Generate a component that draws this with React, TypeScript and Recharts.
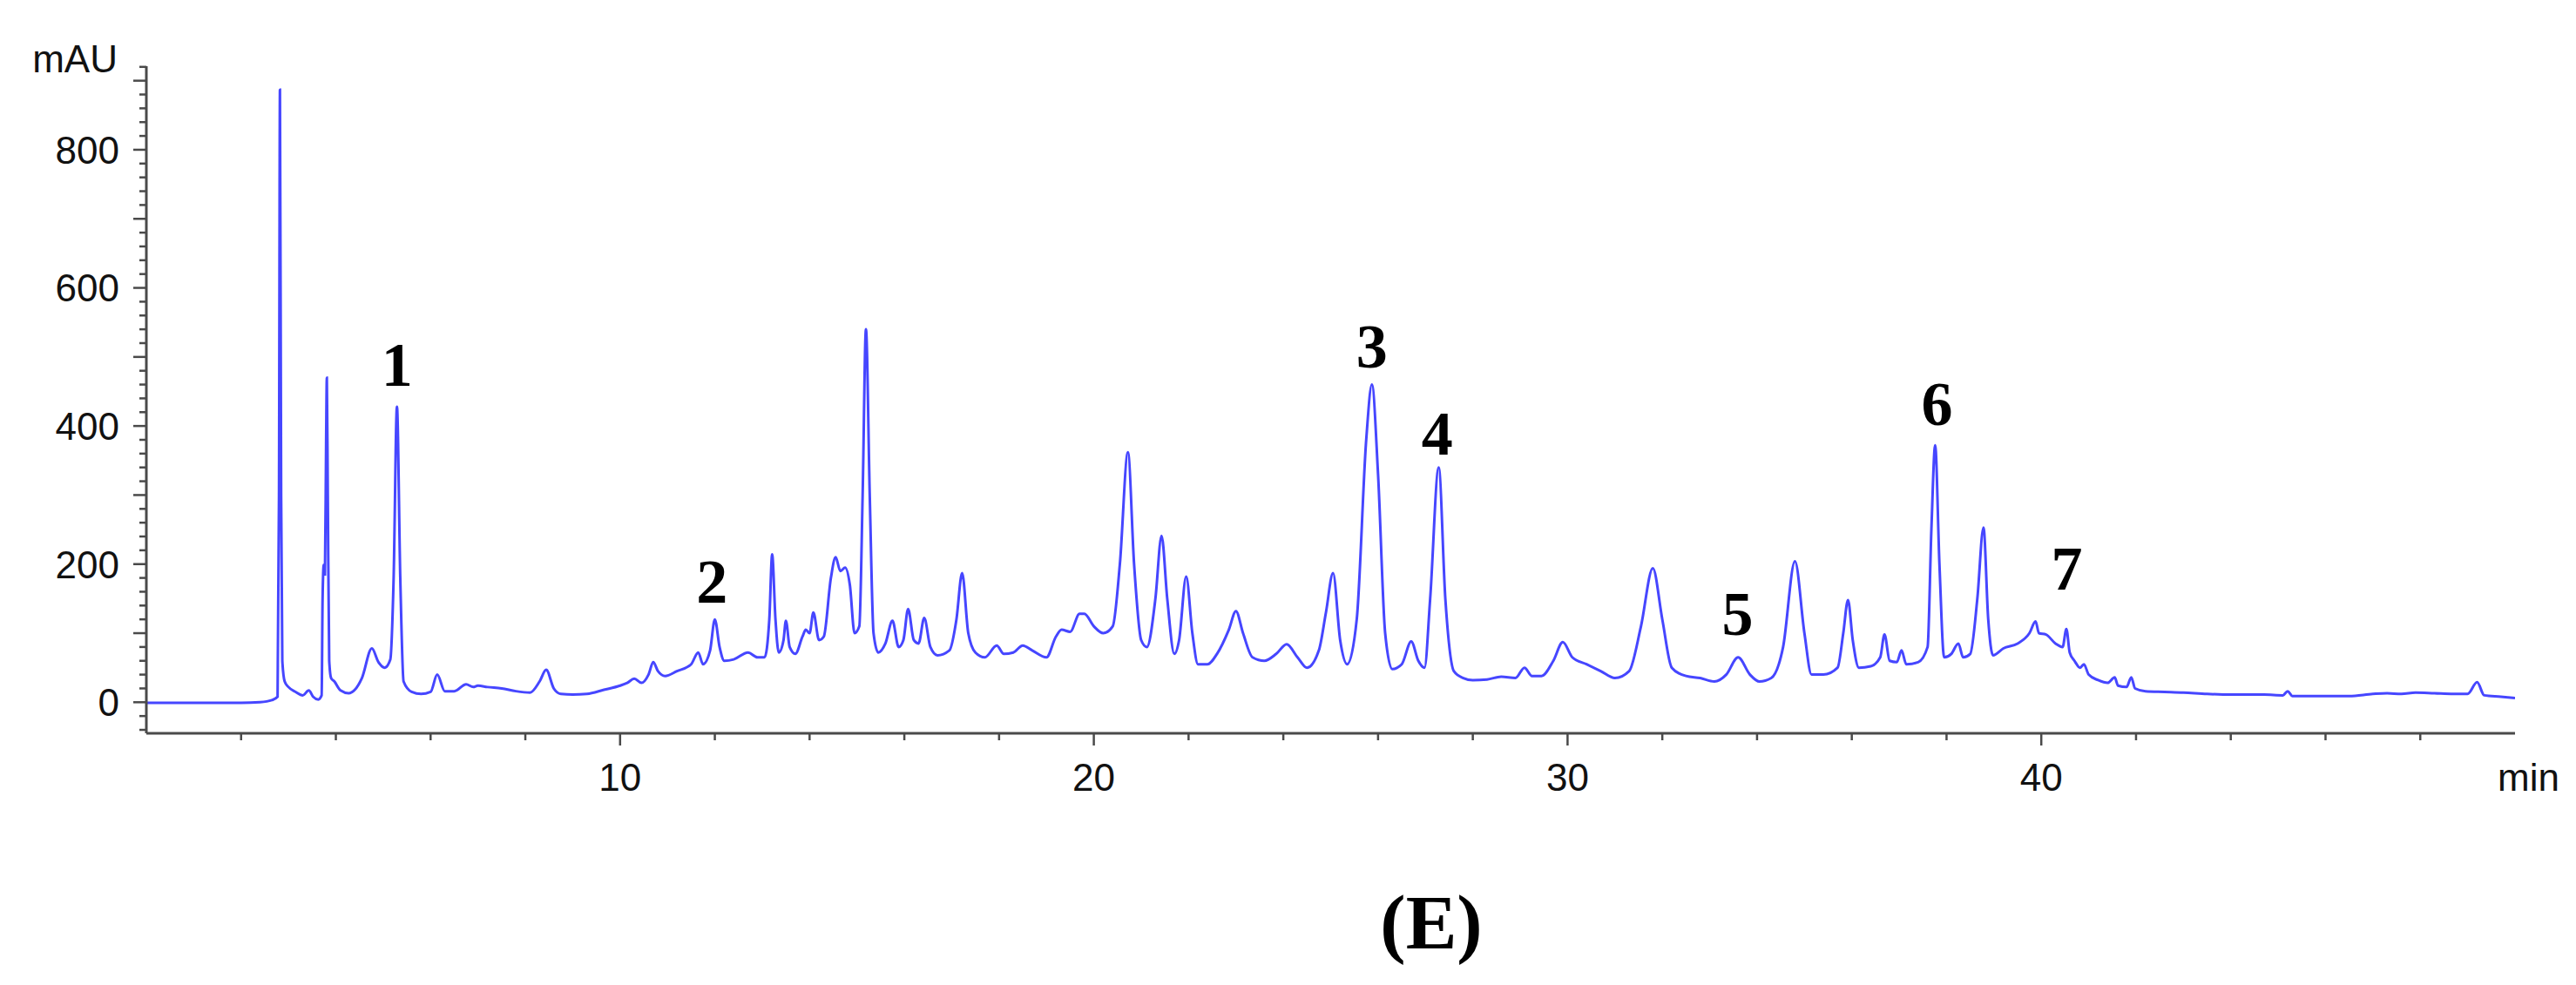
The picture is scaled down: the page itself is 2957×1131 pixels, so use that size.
import React from 'react';
import { LineChart, Line, XAxis, YAxis, ReferenceDot } from 'recharts';

// Chromatogram trace, [retention time (min), absorbance (mAU)]
const trace0to10: [number, number][] = [
  [0, -1], [0.5, -1], [1.0, -1], [1.5, -1], [2.0, -1], [2.4, 0], [2.65, 3], [2.77, 8],
  [2.8, 300], [2.82, 887], [2.845, 300], [2.87, 60], [2.92, 30], [3.0, 22], [3.15, 15],
  [3.3, 10], [3.43, 17], [3.52, 8], [3.63, 4], [3.7, 10], [3.72, 150], [3.745, 199],
  [3.77, 185], [3.795, 380], [3.81, 470], [3.83, 300], [3.86, 60], [3.9, 35], [3.97, 30],
  [4.1, 17], [4.27, 13], [4.4, 18], [4.55, 35], [4.76, 78], [4.9, 58], [5.03, 50],
  [5.15, 62], [5.22, 180], [5.29, 428], [5.36, 180], [5.43, 30], [5.6, 15], [5.8, 12],
  [6.0, 15], [6.14, 40], [6.3, 16], [6.5, 16], [6.75, 26], [6.9, 22], [7.0, 24], [7.2, 22],
  [7.5, 20], [7.8, 16], [8.1, 14], [8.3, 30], [8.44, 47], [8.6, 20], [8.75, 12], [9.0, 11],
  [9.3, 12], [9.66, 18], [10.0, 24],
];
const trace10to20: [number, number][] = [
  [10.15, 28], [10.3, 34], [10.45, 28], [10.6, 40], [10.7, 58], [10.8, 45], [10.95, 38],
  [11.2, 45], [11.5, 55], [11.65, 72], [11.75, 55], [11.9, 75], [12.0, 120], [12.1, 80],
  [12.2, 60], [12.4, 62], [12.7, 72], [12.9, 65], [13.05, 65], [13.15, 120], [13.21, 214],
  [13.28, 120], [13.35, 72], [13.45, 90], [13.5, 118], [13.58, 80], [13.7, 70], [13.85, 95],
  [13.92, 105], [14.0, 100], [14.08, 130], [14.2, 90], [14.3, 95], [14.45, 180], [14.55, 210],
  [14.65, 190], [14.75, 195], [14.85, 170], [14.95, 100], [15.05, 110], [15.12, 300],
  [15.19, 540], [15.27, 300], [15.35, 100], [15.45, 72], [15.6, 85], [15.75, 118], [15.88, 80],
  [15.98, 90], [16.08, 135], [16.2, 90], [16.3, 85], [16.42, 122], [16.55, 80], [16.7, 68],
  [16.95, 75], [17.1, 120], [17.22, 187], [17.35, 100], [17.5, 72], [17.7, 65], [17.95, 82],
  [18.1, 70], [18.3, 72], [18.5, 82], [18.7, 75], [19.0, 65], [19.2, 95], [19.32, 105],
  [19.5, 102], [19.7, 128], [19.8, 128], [20.0, 110],
];
const trace20to30: [number, number][] = [
  [20.2, 100], [20.4, 110], [20.55, 200], [20.72, 362], [20.85, 200], [21.0, 90], [21.12, 80],
  [21.3, 150], [21.43, 241], [21.55, 150], [21.7, 70], [21.8, 90], [21.95, 182], [22.08, 100],
  [22.2, 55], [22.4, 55], [22.6, 70], [22.85, 105], [23.0, 132], [23.15, 100], [23.35, 65],
  [23.6, 60], [23.85, 70], [24.07, 84], [24.3, 65], [24.5, 50], [24.75, 75], [24.9, 130],
  [25.05, 187], [25.2, 90], [25.35, 55], [25.55, 120], [25.75, 380], [25.87, 460], [26.0, 330],
  [26.15, 100], [26.3, 48], [26.5, 55], [26.7, 88], [26.85, 60], [26.98, 50], [27.1, 150],
  [27.28, 340], [27.42, 150], [27.6, 45], [27.8, 35], [28.0, 32], [28.3, 33], [28.6, 37],
  [28.9, 35], [29.09, 50], [29.25, 38], [29.45, 38], [29.7, 60], [29.9, 87], [30.1, 65],
];
const trace30to40: [number, number][] = [
  [30.4, 55], [30.7, 45], [31.0, 35], [31.3, 45], [31.55, 110], [31.8, 194], [32.0, 120],
  [32.2, 50], [32.5, 38], [32.8, 35], [33.1, 30], [33.35, 40], [33.6, 65], [33.85, 40],
  [34.05, 30], [34.3, 35], [34.55, 80], [34.8, 204], [35.0, 100], [35.15, 40], [35.4, 40],
  [35.7, 50], [35.82, 100], [35.92, 148], [36.02, 90], [36.15, 50], [36.4, 52], [36.6, 65],
  [36.69, 98], [36.8, 60], [36.95, 58], [37.05, 75], [37.15, 55], [37.4, 58], [37.6, 80],
  [37.68, 250], [37.76, 372], [37.85, 200], [37.95, 65], [38.1, 70], [38.25, 85], [38.35, 65],
  [38.5, 70], [38.65, 150], [38.78, 253], [38.88, 120], [38.98, 68], [39.2, 78], [39.5, 85],
  [39.75, 100], [39.88, 117], [39.95, 100], [40.1, 98],
];
const trace40to50: [number, number][] = [
  [40.3, 85], [40.45, 80], [40.53, 106], [40.6, 72], [40.7, 60], [40.82, 50], [40.9, 55],
  [41.0, 40], [41.2, 32], [41.4, 28], [41.55, 36], [41.62, 24], [41.8, 22], [41.9, 36],
  [41.98, 20], [42.2, 16], [42.6, 15], [43.0, 14], [43.5, 12], [44.0, 11], [44.7, 11],
  [45.1, 10], [45.2, 16], [45.3, 9], [45.8, 9], [46.5, 9], [47.0, 12], [47.3, 13], [47.6, 12],
  [47.9, 14], [48.3, 13], [48.7, 12], [49.0, 12], [49.2, 29], [49.35, 10], [49.7, 8], [50.0, 6],
];

// Axis ticks
const xTicks = [2, 4, 6, 8, 10, 12, 14, 16, 18, 20, 22, 24, 26, 28, 30, 32, 34, 36, 38, 40, 42, 44, 46, 48];
const xLabelTicks = [10, 20, 30, 40];
const yTicks = [-40, -20, 0, 20, 40, 60, 80, 100, 120, 140, 160, 180, 200, 220, 240, 260, 280, 300, 320, 340, 360, 380, 400, 420, 440, 460, 480, 500, 520, 540, 560, 580, 600, 620, 640, 660, 680, 700, 720, 740, 760, 780, 800, 820, 840, 860, 880, 900, 920];
const yLabelTicks = [0, 200, 400, 600, 800];

// Peak annotations: label, time, mAU (baseline of the label)
const peakLabels = ['1', '2', '3', '4', '5', '6', '7'];
const peakTimes = [5.29, 11.94, 25.87, 27.25, 33.59, 37.8, 40.54];
const peakLabelLevels = [458, 144, 485, 358, 98, 402, 163];

const data = [...trace0to10, ...trace10to20, ...trace20to30, ...trace30to40, ...trace40to50].map(
  ([t, v]) => ({ t, v })
);

const AXIS_COLOR = '#4a4a4a';
const SANS = '"Liberation Sans", Arial, sans-serif';
const SERIF = '"Liberation Serif", "Times New Roman", serif';

const YTick = (props: any) => {
  const { x, y, payload } = props;
  const v = payload.value;
  const major = v % 100 === 0;
  const len = major ? 15 : 8;
  return (
    <g>
      <line x1={x - len} x2={x} y1={y} y2={y} stroke={AXIS_COLOR} strokeWidth={2.5} />
      {yLabelTicks.includes(v) && (
        <text x={x - 31} y={y} dy="0.36em" textAnchor="end" fontFamily={SANS} fontSize={44} fill="#111">
          {v}
        </text>
      )}
    </g>
  );
};

const XTick = (props: any) => {
  const { x, y, payload } = props;
  const v = payload.value;
  const major = xLabelTicks.includes(v);
  const len = major ? 14 : 8;
  return (
    <g>
      <line x1={x} x2={x} y1={y} y2={y + len} stroke={AXIS_COLOR} strokeWidth={2.5} />
      {major && (
        <text x={x} y={y + 66} textAnchor="middle" fontFamily={SANS} fontSize={44} fill="#111">
          {v}
        </text>
      )}
    </g>
  );
};

export default function App() {
  return (
    <div style={{ position: 'relative', width: 2941, height: 1115 }}>
      <LineChart
        width={2941}
        height={1115}
        data={data}
        margin={{ top: 68, right: 62, left: 40, bottom: 181 }}
      >
        <XAxis
          type="number"
          dataKey="t"
          domain={[0, 50]}
          ticks={xTicks}
          interval={0}
          height={100}
          tickSize={0}
          tickMargin={0}
          tickLine={false}
          axisLine={{ stroke: AXIS_COLOR, strokeWidth: 3 }}
          tick={<XTick />}
          allowDataOverflow
        />
        <YAxis
          type="number"
          domain={[-45, 921]}
          ticks={yTicks}
          interval={0}
          width={120}
          tickSize={0}
          tickMargin={0}
          tickLine={false}
          axisLine={{ stroke: AXIS_COLOR, strokeWidth: 3 }}
          tick={<YTick />}
          allowDataOverflow
        />
        <Line
          type="monotone"
          dataKey="v"
          stroke="#4646ff"
          strokeWidth={3}
          dot={false}
          isAnimationActive={false}
        />
        {peakLabels.map((lab, i) => (
          <ReferenceDot
            key={lab}
            x={peakTimes[i]}
            y={peakLabelLevels[i]}
            r={0}
            isFront
            shape={(p: any) => (
              <text
                x={p.cx}
                y={p.cy}
                textAnchor="middle"
                fontFamily={SERIF}
                fontWeight="bold"
                fontSize={72}
                fill="#000"
              >
                {lab}
              </text>
            )}
          />
        ))}
      </LineChart>
      <svg
        width={2941}
        height={1115}
        style={{ position: 'absolute', left: 0, top: 0, pointerEvents: 'none' }}
      >
        <text x={127} y={75} textAnchor="end" fontFamily={SANS} fontSize={44} fill="#111">
          mAU
        </text>
        <text x={2859} y={900} fontFamily={SANS} fontSize={44} fill="#111">
          min
        </text>
        <text x={1635} y={1081} textAnchor="middle" fontFamily={SERIF} fontWeight="bold" fontSize={88} fill="#000">
          (E)
        </text>
      </svg>
    </div>
  );
}
